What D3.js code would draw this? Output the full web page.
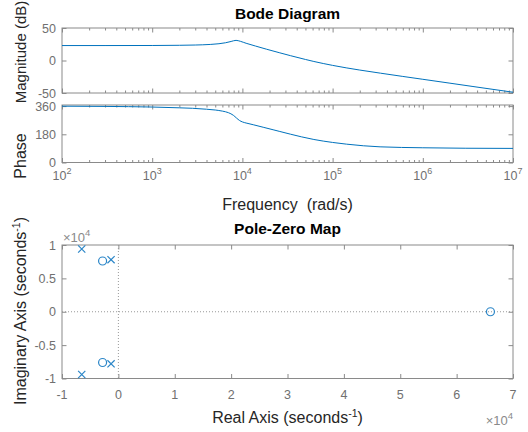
<!DOCTYPE html>
<html>
<head>
<meta charset="utf-8">
<script src="https://cdn.jsdelivr.net/npm/d3@7"></script>
<style>
    body { margin: 0; background: #fff; }
    svg { font-family: "Liberation Sans", Arial, sans-serif; }
</style>
</head>
<body>
<div id="chart"></div>
<script>
// Bode magnitude
const freqMag = [100, 300, 1000, 2000, 3000, 4400, 5500, 6500, 7500, 8500, 9500, 11000, 14000, 18600, 26000, 34000, 50000, 62000, 100000, 200000, 340000, 600000, 1e6, 2e6, 3.6e6, 6e6, 1e7];
const magDb = [23, 23, 23.1, 23.4, 23.8, 24.7, 25.8, 27.3, 29.3, 31, 29.5, 26.5, 22.2, 17.3, 11.8, 7.5, 1.6, -1.5, -7.5, -14.7, -19.5, -24.5, -28.9, -34.9, -40, -44.4, -48.8];

// Bode phase
const freqPhase = [100, 300, 1000, 2000, 2800, 4000, 5000, 6000, 7000, 7950, 8600, 9300, 10000, 11000, 13200, 17000, 21900, 26000, 34000, 45000, 62000, 100000, 143000, 336000, 1e6, 3e6, 1e7];
const phaseDeg = [359.5, 358, 354, 349, 346, 340, 335, 328, 318, 301, 284, 268, 259, 252, 241, 225, 209, 198, 181, 164, 147, 128, 117, 100, 94, 91, 90];

// Pole-zero map
const poleRe = [-6500, -6500, -1300, -1300];
const poleIm = [9400, -9400, 7800, -7800];
const zeroRe = [-2800, -2800, 66000];
const zeroIm = [7600, -7600, 0];

// Tick labels
const magTicks = [-50, 0, 50];
const phaseTicks = [0, 180, 360];
const decades = [2, 3, 4, 5, 6, 7];
const pzXTicks = [-1, 0, 1, 2, 3, 4, 5, 6, 7];
const pzYTicks = [-1, -0.5, 0, 0.5, 1];

const width = 528, height = 432;
const left = 62, right = 513;
const magTop = 28, magBottom = 93;
const phTop = 105, phBottom = 162.5;
const pzTop = 245, pzBottom = 378.5;

const blue = "#0072BD";
const boxColor = "#8a8a8a";
const tickText = "#707070";
const labelText = "#262626";
const tickFont = 12.5;

const svg = d3.select("#chart")
    .append("svg")
    .attr("width", width)
    .attr("height", height);

const x = d3.scaleLog().domain([1e2, 1e7]).range([left, right]);
const yMag = d3.scaleLinear().domain([-50, 50]).range([magBottom, magTop]);
const yPhase = d3.scaleLinear().domain([0, 367]).range([phBottom, phTop]);
const xPz = d3.scaleLinear().domain([-1e4, 7e4]).range([left, right]);
const yPz = d3.scaleLinear().domain([-1e4, 1e4]).range([pzBottom, pzTop]);

// minor ticks for the log axis
const minorTicks = [];
for (let p = 2; p < 7; p++) {
    for (let m = 2; m < 10; m++) minorTicks.push(m * Math.pow(10, p));
}

function styleAxis(g) {
    g.select(".domain").remove();
    g.selectAll(".tick line").attr("stroke", boxColor);
    g.selectAll(".tick text").attr("fill", tickText).attr("font-size", tickFont);
}

// draws box, inward ticks on all four sides
function frame(xScale, yScale, top, bottom, xVals, yVals, yFmt, xMinor) {
    const g = svg.append("g");
    g.append("g").attr("transform", `translate(0,${bottom})`)
        .call(d3.axisBottom(xScale).tickValues(xVals).tickSize(-4.5).tickSizeOuter(0).tickFormat(""))
        .call(styleAxis);
    g.append("g").attr("transform", `translate(0,${top})`)
        .call(d3.axisTop(xScale).tickValues(xVals).tickSize(-4.5).tickSizeOuter(0).tickFormat(""))
        .call(styleAxis);
    if (xMinor) {
        g.append("g").attr("transform", `translate(0,${bottom})`)
            .call(d3.axisBottom(xScale).tickValues(xMinor).tickSize(-2.5).tickSizeOuter(0).tickFormat(""))
            .call(styleAxis);
        g.append("g").attr("transform", `translate(0,${top})`)
            .call(d3.axisTop(xScale).tickValues(xMinor).tickSize(-2.5).tickSizeOuter(0).tickFormat(""))
            .call(styleAxis);
    }
    g.append("g").attr("transform", `translate(${left},0)`)
        .call(d3.axisLeft(yScale).tickValues(yVals).tickSize(-4.5).tickSizeOuter(0).tickPadding(6).tickFormat(yFmt))
        .call(styleAxis);
    g.append("g").attr("transform", `translate(${right},0)`)
        .call(d3.axisRight(yScale).tickValues(yVals).tickSize(-4.5).tickSizeOuter(0).tickFormat(""))
        .call(styleAxis);
    g.append("rect")
        .attr("x", left).attr("y", top)
        .attr("width", right - left).attr("height", bottom - top)
        .attr("fill", "none").attr("stroke", boxColor).attr("stroke-width", 1);
    return g;
}

const num = d => `${d}`;

// ---- Magnitude
frame(x, yMag, magTop, magBottom, decades.map(p => Math.pow(10, p)), magTicks, num, minorTicks);
svg.append("path")
    .datum(freqMag.map((f, i) => [f, magDb[i]]))
    .attr("fill", "none").attr("stroke", blue).attr("stroke-width", 1)
    .attr("d", d3.line().x(d => x(d[0])).y(d => yMag(d[1])).curve(d3.curveMonotoneX));

// ---- Phase
frame(x, yPhase, phTop, phBottom, decades.map(p => Math.pow(10, p)), phaseTicks, num, minorTicks);
svg.append("path")
    .datum(freqPhase.map((f, i) => [f, phaseDeg[i]]))
    .attr("fill", "none").attr("stroke", blue).attr("stroke-width", 1)
    .attr("d", d3.line().x(d => x(d[0])).y(d => yPhase(d[1])).curve(d3.curveMonotoneX));

// 10^n labels
const decLabel = svg.append("g").selectAll("text")
    .data(decades)
    .enter()
    .append("text")
    .attr("x", d => x(Math.pow(10, d)))
    .attr("y", 180)
    .attr("text-anchor", "middle")
    .attr("fill", tickText)
    .attr("font-size", tickFont);
decLabel.append("tspan").text("10");
decLabel.append("tspan").attr("dy", -6).attr("font-size", 9).text(d => d);

// ---- Pole-zero map
frame(xPz, yPz, pzTop, pzBottom, pzXTicks.map(d => d * 1e4), pzYTicks.map(d => d * 1e4), d => `${d / 1e4}`);
svg.append("g").selectAll("text")
    .data(pzXTicks)
    .enter()
    .append("text")
    .attr("x", d => xPz(d * 1e4))
    .attr("y", 399)
    .attr("text-anchor", "middle")
    .attr("fill", tickText)
    .attr("font-size", tickFont)
    .text(d => d);

// dotted zero lines
svg.append("line")
    .attr("x1", xPz(0)).attr("x2", xPz(0))
    .attr("y1", pzTop).attr("y2", pzBottom)
    .attr("stroke", "#999").attr("stroke-dasharray", "1,2");
svg.append("line")
    .attr("x1", left).attr("x2", right)
    .attr("y1", yPz(0)).attr("y2", yPz(0))
    .attr("stroke", "#999").attr("stroke-dasharray", "1,2");

const poles = poleRe.map((r, i) => ({ re: r, im: poleIm[i] }));
const zeros = zeroRe.map((r, i) => ({ re: r, im: zeroIm[i] }));
const s = 3.6;
svg.append("g").selectAll("path")
    .data(poles)
    .enter()
    .append("path")
    .attr("d", d => {
        const cx = xPz(d.re), cy = yPz(d.im);
        return `M${cx - s},${cy - s}L${cx + s},${cy + s}M${cx - s},${cy + s}L${cx + s},${cy - s}`;
    })
    .attr("stroke", "#2b86c8").attr("stroke-width", 1.2).attr("fill", "none");
svg.append("g").selectAll("circle")
    .data(zeros)
    .enter()
    .append("circle")
    .attr("cx", d => xPz(d.re))
    .attr("cy", d => yPz(d.im))
    .attr("r", 4)
    .attr("stroke", "#2b86c8").attr("stroke-width", 1.2).attr("fill", "none");

// exponent notes
function expNote(xp, yp, anchor) {
    const t = svg.append("text")
        .attr("x", xp).attr("y", yp)
        .attr("text-anchor", anchor)
        .attr("fill", "#8a8a8a")
        .attr("font-size", 13);
    t.append("tspan").text("\u00d710");
    t.append("tspan").attr("dy", -6).attr("font-size", 9.5).text("4");
}
expNote(left + 1, 242, "start");
expNote(right, 425, "end");

// ---- Titles and labels
svg.append("text")
    .attr("x", (left + right) / 2).attr("y", 19)
    .attr("text-anchor", "middle").attr("font-weight", "bold").attr("font-size", 15.5)
    .text("Bode Diagram");
svg.append("text")
    .attr("x", (left + right) / 2).attr("y", 234)
    .attr("text-anchor", "middle").attr("font-weight", "bold").attr("font-size", 15.5)
    .text("Pole-Zero Map");

svg.append("text")
    .attr("x", (left + right) / 2).attr("y", 210)
    .attr("text-anchor", "middle").attr("fill", labelText).attr("font-size", 16)
    .attr("xml:space", "preserve")
    .text("Frequency  (rad/s)");

const realLabel = svg.append("text")
    .attr("x", (left + right) / 2).attr("y", 423)
    .attr("text-anchor", "middle").attr("fill", labelText).attr("font-size", 16);
realLabel.append("tspan").text("Real Axis (seconds");
realLabel.append("tspan").attr("dy", -6).attr("font-size", 10.5).text("-1");
realLabel.append("tspan").attr("dy", 6).text(")");

function yLabel(cy, size, build) {
    const t = svg.append("text")
        .attr("transform", `translate(26,${cy}) rotate(-90)`)
        .attr("text-anchor", "middle").attr("fill", labelText).attr("font-size", size);
    build(t);
}
yLabel(52, 15, t => t.text("Magnitude (dB)"));
yLabel(156, 16, t => t.text("Phase"));
yLabel(311, 16, t => {
    t.append("tspan").text("Imaginary Axis (seconds");
    t.append("tspan").attr("dy", -6).attr("font-size", 10.5).text("-1");
    t.append("tspan").attr("dy", 6).text(")");
});
</script>
</body>
</html>
